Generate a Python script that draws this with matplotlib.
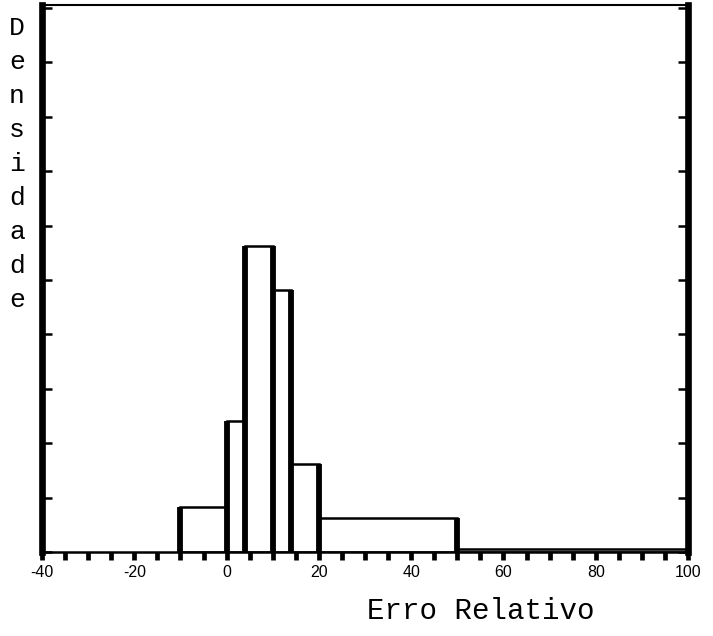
import matplotlib.pyplot as plt
from matplotlib.ticker import MultipleLocator

# histograma do erro relativo (classes desiguais, escala em densidade)
limites = [-10, 0, 4, 10, 14, 20, 50, 100]
densidade = [0.82, 2.40, 5.63, 4.81, 1.61, 0.62, 0.05]
rotulos_x = [-40, -20, 0, 20, 40, 60, 80, 100]

plt.rcParams['axes.unicode_minus'] = False

fig = plt.figure(figsize=(7.13, 6.36), dpi=100)
ax = fig.add_axes([0.059, 0.132, 0.906, 0.860])

larguras = [b - a for a, b in zip(limites[:-1], limites[1:])]
ax.bar(limites[:-1], densidade, width=larguras, align='edge',
       facecolor='white', edgecolor='black', linewidth=1.8, zorder=2)

# lados verticais das barras mais grossos, como no original
for i, x in enumerate(limites):
    esq = densidade[i - 1] if i > 0 else 0
    dir_ = densidade[i] if i < len(densidade) else 0
    ax.vlines(x, -0.14, max(esq, dir_), colors='black', linewidth=4.2, zorder=3)

ax.set_xlim(-40, 100)
ax.set_ylim(0, 10.05)

ax.set_xticks(rotulos_x)
ax.set_xticklabels([str(v) for v in rotulos_x], fontsize=11.5,
                   family='Liberation Sans')
ax.xaxis.set_minor_locator(MultipleLocator(5))
ax.tick_params(axis='x', which='both', direction='out', length=6,
               width=3.4, pad=3)

ax.yaxis.set_major_locator(MultipleLocator(1))
ax.tick_params(axis='y', which='major', direction='in', length=7, width=1.8,
               left=True, right=True, labelleft=False)

ax.spines['left'].set_linewidth(4.8)
ax.spines['right'].set_linewidth(4.8)
ax.spines['top'].set_linewidth(1.5)
ax.spines['bottom'].set_linewidth(1.8)

# rótulo vertical letra a letra
for k, letra in enumerate("Densidade"):
    fig.text(17 / 713, 1 - (28 + 34 * k) / 636, letra, family='Liberation Mono',
             fontsize=19, ha='center', va='center')

fig.text(481 / 713, 1 - 611 / 636, "Erro Relativo", family='Liberation Mono',
         fontsize=21, ha='center', va='center')

fig.savefig('out.png', dpi=100)
